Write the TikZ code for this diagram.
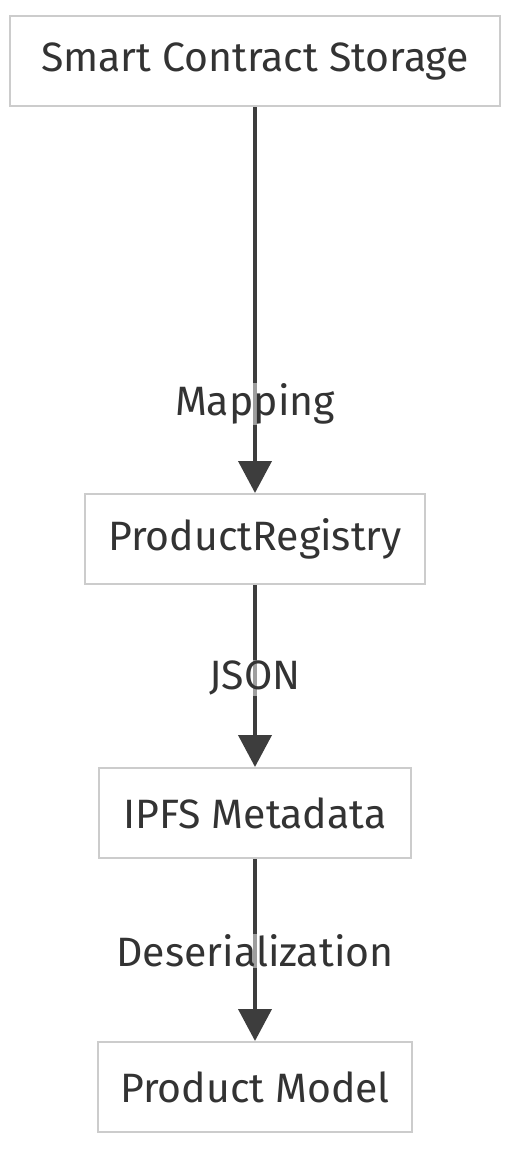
\documentclass[tikz,border=0pt]{standalone}
\usepackage{fontspec}
\setmainfont{Fira Sans}
\usetikzlibrary{arrows.meta}
\definecolor{txt}{HTML}{333333}
\definecolor{bord}{HTML}{CCCCCC}
\definecolor{edge}{HTML}{3D3D3D}
\tikzset{
  box/.style={draw=bord, line width=2pt, fill=white, rectangle, inner sep=0pt, text=txt, font=\fontsize{41}{46}\selectfont},
  conn/.style={draw=edge, line width=4pt, -{Triangle[length=32pt,width=33pt]}},
  lbl/.style={fill=white, fill opacity=0.5, text opacity=1, text=txt, inner sep=1pt, font=\fontsize{41}{46}\selectfont}
}
\begin{document}
\begin{tikzpicture}[x=1pt,y=-1pt]
\useasboundingbox (0,0) rectangle (516,1156);
\node[box, minimum width=490pt, minimum height=90pt] (a) at (255,61) {Smart Contract Storage};
\node[box, minimum width=340pt, minimum height=90pt] (b) at (255,539) {ProductRegistry};
\node[box, minimum width=312pt, minimum height=90pt] (c) at (255,813) {IPFS Metadata};
\node[box, minimum width=314pt, minimum height=90pt] (d) at (255,1087) {Product Model};
\draw[conn] (a.south) -- (b.north);
\draw[conn] (b.south) -- (c.north);
\draw[conn] (c.south) -- (d.north);
\node[lbl] (l1) at (255,404) {Mapping};
\node[lbl] (l2) at (255,678) {JSON};
\node[lbl] (l3) at (255,951) {Deserialization};
\end{tikzpicture}
\end{document}
